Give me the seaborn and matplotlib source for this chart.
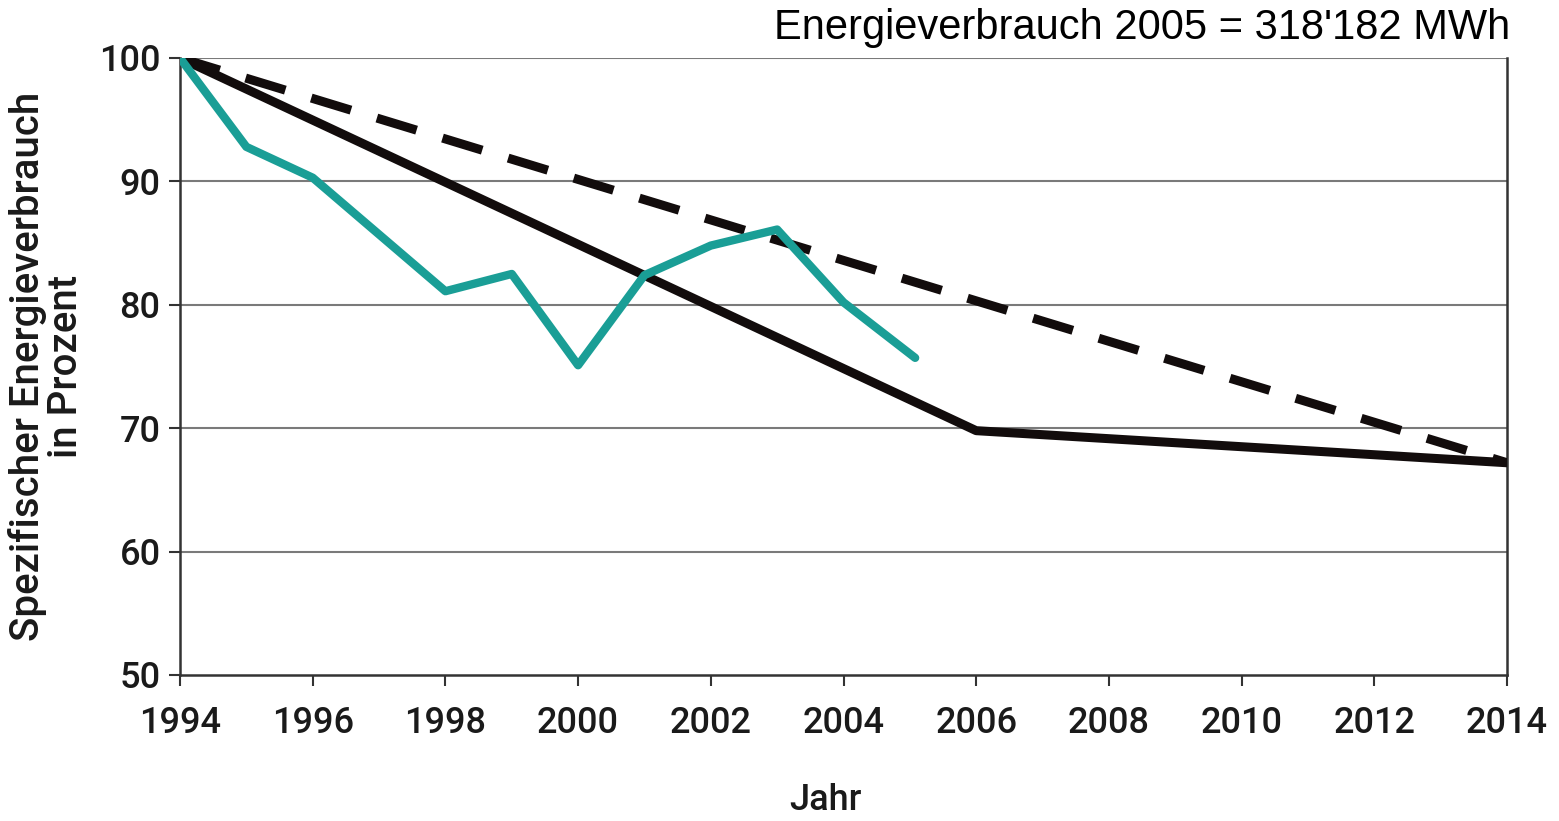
import matplotlib
matplotlib.use("Agg")
import matplotlib.pyplot as plt
import seaborn as sns
import pandas as pd

# Data
ist_years = [1994, 1995, 1996, 1997, 1998, 1999, 2000, 2001, 2002, 2003, 2004, 2005.08]
ist_values = [100, 92.8, 90.3, 85.7, 81.1, 82.5, 75.1, 82.4, 84.8, 86.1, 80.2, 75.7]
ziel_years = [1994, 2006, 2014]
ziel_values = [100, 69.8, 67.2]
linear_years = [1994, 2014]
linear_values = [100, 67.2]
x_ticks = [1994, 1996, 1998, 2000, 2002, 2004, 2006, 2008, 2010, 2012, 2014]
y_ticks = [50, 60, 70, 80, 90, 100]

sns.set_theme(style="white")
plt.rcParams['font.family'] = ['Roboto', 'DejaVu Sans']

fig = plt.figure(figsize=(15.59, 8.21), dpi=100)
ax = fig.add_axes([180/1559, 1 - 675/821, (1507-180)/1559, (675-58)/821])

for v in [60, 70, 80, 90, 100]:
    ax.axhline(v, color="#7a7a7a", lw=1.5, zorder=0)

df_ist = pd.DataFrame({"Jahr": ist_years, "Wert": ist_values})
df_ziel = pd.DataFrame({"Jahr": ziel_years, "Wert": ziel_values})
df_lin = pd.DataFrame({"Jahr": linear_years, "Wert": linear_values})

sns.lineplot(data=df_lin, x="Jahr", y="Wert", ax=ax, color="#120c0c", lw=6.5,
             dashes=False, linestyle=(0, (4.6, 3.0)), zorder=3)
sns.lineplot(data=df_ziel, x="Jahr", y="Wert", ax=ax, color="#120c0c", lw=6.5, zorder=3)
sns.lineplot(data=df_ist, x="Jahr", y="Wert", ax=ax, color="#1a9e96", lw=6, zorder=4)

ax.set_xlim(1994, 2014)
ax.set_ylim(50, 100)
ax.set_xticks(x_ticks)
ax.set_yticks(y_ticks)
ax.tick_params(axis="both", which="both", direction="out", length=8, width=1.5,
               color="#333333", labelsize=26, labelcolor="#1a1a1a", pad=6,
               bottom=True, left=True)
ax.tick_params(axis="x", pad=14)
for lab in ax.get_xticklabels() + ax.get_yticklabels():
    lab.set_fontweight("medium")

for side in ["left", "right", "bottom"]:
    ax.spines[side].set_visible(True)
    ax.spines[side].set_color("#333333")
    ax.spines[side].set_linewidth(1.8)
ax.spines["top"].set_visible(False)

ax.set_xlabel("Jahr", fontsize=26, fontweight="medium", color="#1a1a1a")
ax.xaxis.set_label_coords((825-180)/1327, -(800-675)/617)
ax.xaxis.label.set_va("center")
ax.set_ylabel("Spezifischer Energieverbrauch\nin Prozent", fontsize=29,
              fontweight="medium", color="#1a1a1a", labelpad=10, linespacing=1.0)

fig.text(1510/1559, 1 - 28/821, "Energieverbrauch 2005 = 318'182 MWh",
         ha="right", va="center", fontsize=30, family=["Liberation Sans", "DejaVu Sans"],
         color="black")

fig.savefig("out.png", dpi=100)
